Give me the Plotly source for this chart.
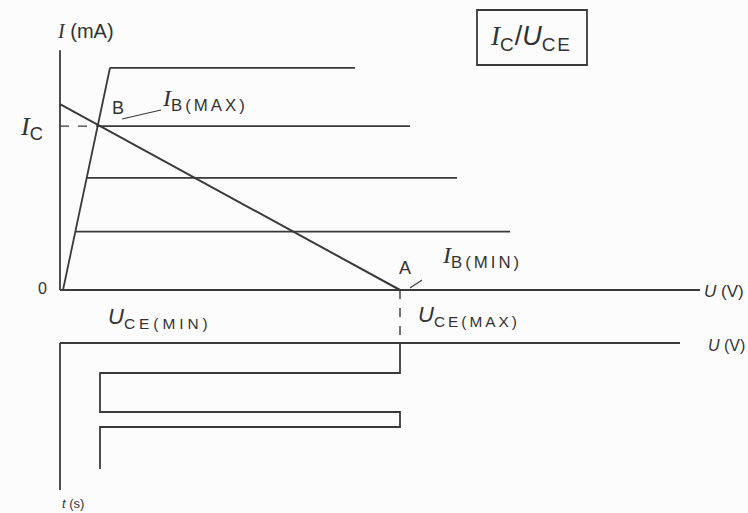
import plotly.graph_objects as go

# Output characteristics I_C(U_CE) for four base currents
IB_LEVELS_MA = [10.1, 7.45, 5.1, 2.65]
IB_KNEE_V = [2.5, 1.9, 1.35, 0.8]
IB_END_V = [14.75, 17.5, 19.85, 22.5]

# Saturation (knee) line
KNEE_U = [0.15, 2.5]
KNEE_I = [0.0, 10.1]

# Load line between A (cut-off) and the I axis
LOAD_U = [0.0, 17.0]
LOAD_I = [8.45, 0.0]

# Operating point B
UCE_MIN = 2.0
IC_B = 7.45
UCE_MAX = 17.0

# U_CE(t) switching waveform (time runs downwards)
WAVE_U = [17, 17, 2, 2, 17, 17, 2, 2]
WAVE_T = [0, 1.0, 1.0, 2.3, 2.3, 2.8, 2.8, 4.2]

# Axis extents
U_AXIS_END = 32.0
I_AXIS_END = 10.9
U2_AXIS_END = 31.0
T_AXIS_END = 4.9

W, H = 748, 513
X0, PX_V = 60, 20.0
Y0_I, PX_MA = 290, 22.0
Y0_T, PX_T = 343, 30.0

INK = "#3a3a3a"
TXT = "#333333"
LW = 1.8

def px(x):
    return x / W

def py(y):
    return 1 - y / H

fig = go.Figure()

def line(u, v, axis="y", dash="solid", width=LW):
    fig.add_trace(go.Scatter(x=u, y=v, mode="lines", yaxis=axis,
                             line=dict(color=INK, width=width, dash=dash),
                             hoverinfo="skip", showlegend=False))

# axes of the upper (I-U) diagram
line([0, U_AXIS_END], [0, 0])
line([0, 0], [0, I_AXIS_END])
# characteristics
line(KNEE_U, KNEE_I)
for lvl, u0, u1 in zip(IB_LEVELS_MA, IB_KNEE_V, IB_END_V):
    line([u0, u1], [lvl, lvl])
# load line
line(LOAD_U, LOAD_I, width=2.0)
# projection of B onto the I axis
line([0, UCE_MIN], [IC_B, IC_B], dash="dash", width=1.4)

# lower diagram: U axis and t axis
line([0, U2_AXIS_END], [0, 0], axis="y2")
line([0, 0], [0, T_AXIS_END], axis="y2")
line(WAVE_U, WAVE_T, axis="y2")
# projection of A down to the waveform
line([UCE_MAX, UCE_MAX], [0, -(Y0_T - Y0_I) / PX_MA], dash="dash", width=1.4)

x_range = [(0 - X0) / PX_V, (W - X0) / PX_V]
i_range = [(Y0_I - H) / PX_MA, Y0_I / PX_MA]
t_range = [(H - Y0_T) / PX_T, (0 - Y0_T) / PX_T]

hidden = dict(visible=False, showgrid=False, zeroline=False, fixedrange=True)
fig.update_layout(
    width=W, height=H,
    margin=dict(l=0, r=0, t=0, b=0),
    paper_bgcolor="#fcfcfc", plot_bgcolor="#fcfcfc",
    xaxis=dict(range=x_range, domain=[0, 1], **hidden),
    yaxis=dict(range=i_range, domain=[0, 1], **hidden),
    yaxis2=dict(range=t_range, overlaying="y", **hidden),
    font=dict(family="Liberation Sans, Arial, sans-serif", size=16, color=TXT),
)

SERIF_I = '<span style="font-family:Liberation Serif"><i>I</i></span>'

def sub(text, spacing=2):
    return f'<sub><span style="letter-spacing:{spacing}px">{text}</span></sub>'

def label(x, y, text, size=16, xanchor="left", yanchor="middle"):
    fig.add_annotation(x=px(x), y=py(y), xref="paper", yref="paper",
                       text=text, showarrow=False, xanchor=xanchor,
                       yanchor=yanchor,
                       font=dict(family="Liberation Sans, Arial, sans-serif",
                                 size=size, color=TXT))

label(55, 31, SERIF_I + " (mA)", 20)
label(18, 128, SERIF_I + sub("C", 1), 26)
label(110, 108, "B", 18)
label(160, 100, SERIF_I + sub("B(MAX)", 3), 24)
label(36, 288, "0", 16)
label(397, 268, "A", 18)
label(440, 257, SERIF_I + sub("B(MIN)", 3), 24)
label(702, 291, "<i>U</i> (V)", 17)
label(706, 345, "<i>U</i> (V)", 16)
label(106, 318, "<i>U</i>" + sub("CE(MIN)", 4), 22)
label(416, 316, "<i>U</i>" + sub("CE(MAX)", 3), 22)
label(60, 503, "<i>t</i> (s)", 13)

# leader lines
fig.add_shape(type="line", xref="paper", yref="paper",
              x0=px(122), y0=py(119), x1=px(161), y1=py(110),
              line=dict(color=INK, width=1.2))
fig.add_shape(type="line", xref="paper", yref="paper",
              x0=px(410), y0=py(288), x1=px(422), y1=py(280),
              line=dict(color=INK, width=1.2))

# boxed title
fig.add_shape(type="rect", xref="paper", yref="paper",
              x0=px(477), y0=py(10), x1=px(587), y1=py(65),
              line=dict(color=INK, width=1.8))
label(531, 38, SERIF_I + sub("C", 1) + "/<i>U</i>" + sub("CE", 2), 27, xanchor="center")

fig.write_html("out.html")
